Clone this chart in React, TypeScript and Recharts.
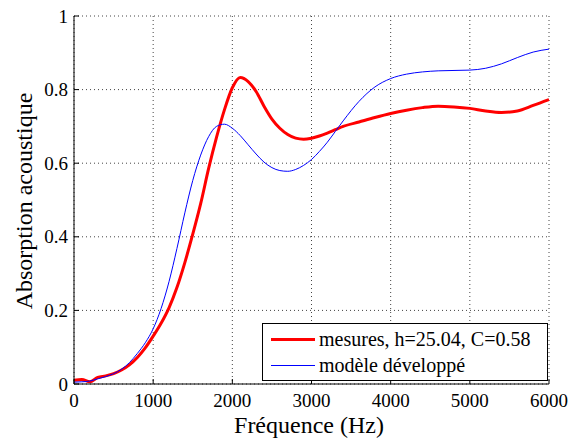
import React from "react";
import {
  LineChart, Line, CartesianGrid, XAxis, YAxis,
} from "recharts";

const freqs = [
  0, 100, 200, 300, 400, 500, 600, 700, 800, 900, 1000, 1100, 1200, 1300, 1400, 1500,
  1600, 1700, 1800, 1900, 2000, 2100, 2200, 2300, 2400, 2500, 2600, 2700, 2800, 2900, 3000,
  3100, 3200, 3300, 3400, 3600, 3800, 4000, 4200, 4400, 4600, 4800, 5000, 5200, 5400, 5600, 5800, 6000,
];

const mesures = [
  0.01, 0.012, 0.006, 0.018, 0.022, 0.028, 0.038, 0.052, 0.072, 0.098, 0.13, 0.165, 0.207, 0.262, 0.33, 0.407,
  0.49, 0.585, 0.67, 0.745, 0.805, 0.833, 0.822, 0.795, 0.755, 0.72, 0.695, 0.678, 0.668, 0.665, 0.668,
  0.674, 0.682, 0.691, 0.7, 0.712, 0.724, 0.735, 0.744, 0.751, 0.755, 0.753, 0.749, 0.742, 0.738, 0.742, 0.757, 0.773,
];

const modele = [
  0.005, 0.006, 0.008, 0.014, 0.02, 0.028, 0.04, 0.058, 0.083, 0.112, 0.15, 0.205, 0.278, 0.368, 0.465, 0.553,
  0.622, 0.672, 0.7, 0.706, 0.695, 0.675, 0.65, 0.625, 0.603, 0.588, 0.58, 0.578, 0.583, 0.594, 0.61,
  0.632, 0.657, 0.686, 0.715, 0.768, 0.807, 0.83, 0.842, 0.848, 0.851, 0.852, 0.853, 0.858, 0.87, 0.887, 0.902, 0.91,
];

const xTicks = [0, 1000, 2000, 3000, 4000, 5000, 6000];
const yTicks = [0, 0.2, 0.4, 0.6, 0.8, 1];

const data = freqs.map((f, i) => ({ f, mesures: mesures[i], modele: modele[i] }));

const FONT = "'Liberation Serif', 'Times New Roman', serif";

const BottomTick = (props: any) => {
  const { x, y, payload } = props;
  return (
    <g>
      <line x1={x} x2={x} y1={y} y2={y - 5} stroke="#000" />
      <text x={x} y={y + 23} textAnchor="middle" fontSize={19} fontFamily={FONT} fill="#000">
        {payload.value}
      </text>
    </g>
  );
};

const TopTick = (props: any) => {
  const { x, y } = props;
  return <line x1={x} x2={x} y1={y} y2={y + 5} stroke="#000" />;
};

const LeftTick = (props: any) => {
  const { x, y, payload } = props;
  return (
    <g>
      <line x1={x} x2={x + 5} y1={y} y2={y} stroke="#000" />
      <text x={x - 6} y={y + 6.5} textAnchor="end" fontSize={19} fontFamily={FONT} fill="#000">
        {payload.value}
      </text>
    </g>
  );
};

const RightTick = (props: any) => {
  const { x, y } = props;
  return <line x1={x} x2={x - 5} y1={y} y2={y} stroke="#000" />;
};

const App = () => (
  <div style={{ position: "absolute", left: 0, top: 0, width: 577, height: 439, background: "#fff", fontFamily: FONT }}>
    <LineChart width={577} height={439} data={data} margin={{ top: 16, right: 28, bottom: 0, left: 0 }}>
      <CartesianGrid stroke="#444" strokeDasharray="1 3" xAxisId="b" yAxisId="l" />
      <XAxis
        xAxisId="b" dataKey="f" type="number" domain={[0, 6000]} ticks={xTicks}
        height={55} stroke="#000" tickLine={false} tickSize={0} tickMargin={0}
        tick={<BottomTick />} interval={0}
      />
      <XAxis
        xAxisId="t" orientation="top" dataKey="f" type="number" domain={[0, 6000]} ticks={xTicks}
        height={0} stroke="#000" tickLine={false} tickSize={0} tickMargin={0}
        tick={<TopTick />} interval={0}
      />
      <YAxis
        yAxisId="l" domain={[0, 1]} ticks={yTicks} width={74} stroke="#000"
        tickLine={false} tickSize={0} tickMargin={0} tick={<LeftTick />} interval={0}
      />
      <YAxis
        yAxisId="r" orientation="right" domain={[0, 1]} ticks={yTicks} width={0} stroke="#000"
        tickLine={false} tickSize={0} tickMargin={0} tick={<RightTick />} interval={0}
      />
      <Line
        xAxisId="b" yAxisId="l" type="monotone" dataKey="mesures" stroke="#ff0000"
        strokeWidth={3} dot={false} isAnimationActive={false}
      />
      <Line
        xAxisId="b" yAxisId="l" type="monotone" dataKey="modele" stroke="#0000ff"
        strokeWidth={1} dot={false} isAnimationActive={false}
      />
    </LineChart>

    {/* axis titles */}
    <svg width={577} height={439} style={{ position: "absolute", left: 0, top: 0, pointerEvents: "none" }}>
      <text x={309} y={433} textAnchor="middle" fontSize={24} fontFamily={FONT} fill="#000">
        Fréquence (Hz)
      </text>
      <text
        x={0} y={0} transform="translate(32,201) rotate(-90)" textAnchor="middle"
        fontSize={24} fontFamily={FONT} fill="#000"
      >
        Absorption acoustique
      </text>
    </svg>

    {/* legend */}
    <div style={{
      position: "absolute", left: 262, top: 323, width: 286, height: 58, boxSizing: "border-box",
      border: "1px solid #000", background: "#fff", fontSize: 20, color: "#000",
      padding: "2px 0 0 8px", lineHeight: "26px",
    }}>
      <div style={{ display: "flex", alignItems: "center", height: 26 }}>
        <span style={{ width: 44, height: 3, background: "#ff0000", marginRight: 4 }} />
        mesures, h=25.04, C=0.58
      </div>
      <div style={{ display: "flex", alignItems: "center", height: 26 }}>
        <span style={{ width: 44, height: 1, background: "#0000ff", marginRight: 4 }} />
        modèle développé
      </div>
    </div>
  </div>
);

export default App;
